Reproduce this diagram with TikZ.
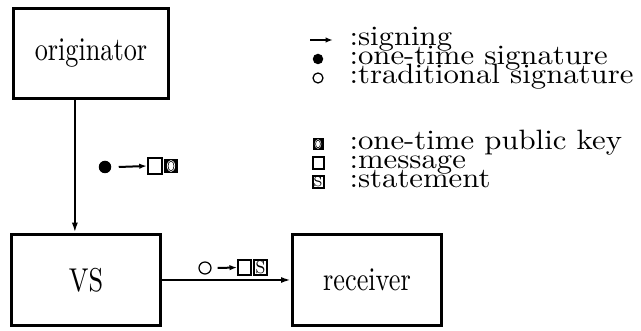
\documentclass[tikz,border=0pt]{standalone}
\usetikzlibrary{arrows.meta,calc}
% text helpers: box captions are set tall, legend entries wide
\newcommand\boxcap[1]{\scalebox{1.05}[1.32]{#1}}
\newcommand\legtext[1]{\scalebox{1.23}[1.12]{#1}}
\begin{document}
\begin{tikzpicture}[x=0.4pt,y=-0.4pt,
  box/.style={draw, line width=1.3pt, inner sep=0, font=\fontsize{10}{12}\selectfont},
  wire/.style={line width=0.9pt, -{Latex[length=4pt,width=2.4pt]}},
  sarr/.style={line width=0.8pt, -{Latex[length=3pt,width=2.2pt]}},
  icon/.style={inner sep=0, minimum width=#1, minimum height=1.1*#1},
  msg/.style={icon=#1, draw, line width=0.8pt, fill=white},
  pkey/.style={icon=#1, fill=black,
    path picture={\fill[white] (path picture bounding box.center) ellipse (0.3*#1 and 0.44*#1);
                  \draw[line width=0.25pt] (path picture bounding box.center) ellipse (0.22*#1 and 0.36*#1);}},
  stmt/.style={icon=#1, draw, line width=0.8pt, fill=white},
  dot/.style={circle, fill=black, inner sep=0, minimum size=#1},
  ring/.style={circle, draw, line width=0.5pt, inner sep=0, minimum size=#1},
  legend/.style={anchor=base west, inner sep=0, font=\fontsize{10}{12}\selectfont},
]
\useasboundingbox (0,0) rectangle (641,331);

% the three parties
\node[box, minimum width=62pt, minimum height=36pt] (orig) at (91,53.5) {\boxcap{originator}};
\node[box, minimum width=59.5pt, minimum height=36.5pt] (vs) at (86,280) {\boxcap{VS}};
\node[box, minimum width=59.5pt, minimum height=36.5pt] (rec) at (367,280) {\boxcap{receiver}};

% originator -> VS
\path (orig.south west) ++(63,0) coordinate (drop);
\draw[wire] (drop) -- (drop |- vs.north);
% VS -> receiver
\draw[wire] (vs.east) -- (rec.west);

% what travels from originator to VS
\node[dot=5pt] (d1) at (105,167) {};
\node[msg=5.8pt] (m1) at (155,166) {};
\node[pkey=5.4pt] (k1) at (171,166) {};
\draw[sarr] ($(d1.east)+(7,0)$) coordinate (s1) -- (m1.west);

% what travels from VS to receiver
\node[ring=4.8pt] (c2) at (205,268) {};
\node[msg=5.2pt] (m2) at (244.5,267.5) {};
\node[stmt=5.2pt] (t2) at (260.5,267.5) {};
\node[inner sep=0, font=\fontsize{6.5}{6.5}\selectfont] (t2s) at (t2.center) {\scalebox{1}[1.1]{S}};
\draw[sarr] ($(c2.east)+(6,0)$) coordinate (s2) -- (m2.west);

% legend: signatures
\coordinate (la) at (310,40);
\coordinate (lb) at (333,40);
\draw[sarr] (la) -- (lb);
\node[legend] (l1) at (349,46) {\legtext{:signing}};
\node[dot=4.2pt] (ld) at (318,59) {};
\node[legend] (l2) at (349,65) {\legtext{:one-time signature}};
\node[ring=4pt] (lc) at (318,78) {};
\node[legend] (l3) at (349,84) {\legtext{:traditional signature}};

% legend: data items
\node[pkey=4.4pt] (lk) at (318,144) {};
\node[legend] (l4) at (349,150) {\legtext{:one-time public key}};
\node[msg=4.4pt] (lm) at (318,163) {};
\node[legend] (l5) at (349,169) {\legtext{:message}};
\node[stmt=4.4pt] (lt) at (318,182) {};
\node[inner sep=0, font=\fontsize{5.5}{5.5}\selectfont] (lts) at (lt.center) {S};
\node[legend] (l6) at (349,188) {\legtext{:statement}};
\end{tikzpicture}
\end{document}
